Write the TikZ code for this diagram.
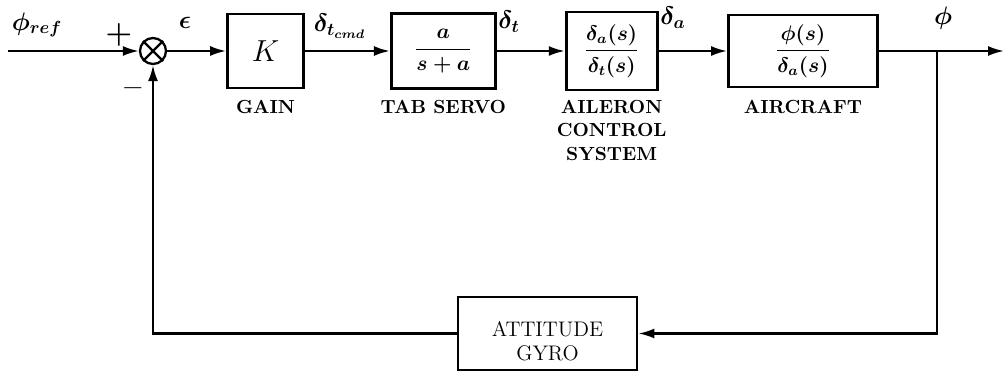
\documentclass[tikz,border=0pt]{standalone}
\usepackage{amsmath,bm}
\usetikzlibrary{arrows.meta, positioning}

\begin{document}
\begin{tikzpicture}[
    node distance=1.37cm,
    line width=1.3pt,
    >={Latex[length=3.2mm,width=2mm]},
    blk/.style={draw, line width=1.6pt, minimum width=1.82cm, minimum height=1.56cm, align=center, inner sep=0pt, font=\large\boldmath},
    lbl/.style={anchor=north, align=center, font=\fontsize{10.8}{13.4}\selectfont\bfseries, inner sep=0pt},
    sig/.style={inner sep=0pt, font=\Large}
  ]
  \useasboundingbox (0,0) rectangle (20.1,-7.48);

  \node[draw, circle, minimum size=0.52cm, inner sep=0pt] (sum) at (3.06,-1.02) {};
  \draw (sum.north west) -- (sum.south east) (sum.north east) -- (sum.south west);

  \node[blk, minimum width=1.52cm, minimum height=1.48cm, right=1.18cm of sum, font=\LARGE] (gain) {$K$};
  \node[blk, minimum width=2.08cm, minimum height=1.5cm, right=1.7cm of gain] (servo) {$\dfrac{a}{s+a}$};
  \node[blk, right=1.36cm of servo] (ail) {$\dfrac{\delta_a(s)}{\delta_t(s)}$};
  \node[blk, minimum width=2.98cm, minimum height=1.44cm, right=of ail] (acft) {$\dfrac{\phi(s)}{\delta_a(s)}$};
  \node[blk, minimum width=3.58cm, minimum height=1.46cm] (gyro) at (10.95,-6.67) {};
  \node[align=center, font=\large, inner sep=0pt] (gyrotxt) at ([yshift=-0.15cm]gyro.center) {ATTITUDE\\GYRO};

  \coordinate (in) at (0.16,-1.02);
  \coordinate (br) at (18.74,-1.02);
  \coordinate (out) at (20.08,-1.02);
  \coordinate (lblrow) at (0,-1.98);

  % block labels
  \node[lbl] (gainlbl) at (gain |- lblrow) {GAIN};
  \node[lbl] (servolbl) at (servo |- lblrow) {TAB SERVO};
  \node[lbl] (aillbl) at (ail |- lblrow) {AILERON\\CONTROL\\SYSTEM};
  \node[lbl] (acftlbl) at (acft |- lblrow) {AIRCRAFT};

  % signals
  \node[sig] (phiref) at (0.74,-0.5) {$\bm{\phi_{ref}}$};
  \node[sig, font=\LARGE\bfseries] (plus) at (2.38,-0.7) {+};
  \node[sig, font=\LARGE\bfseries] (minus) at (2.66,-1.84) {--};
  \node[sig] (err) at (3.7,-0.46) {$\bm{\epsilon}$};
  \node[sig] (dtcmd) at (6.8,-0.52) {$\bm{\delta_{t_{cmd}}}$};
  \node[sig] (dt) at (10.18,-0.44) {$\bm{\delta_t}$};
  \node[sig] (da) at (13.46,-0.36) {$\bm{\delta_a}$};
  \node[sig] (phi) at (18.86,-0.36) {$\bm{\phi}$};

  \draw[->] (in) -- (sum);
  \draw[->] (sum) -- (gain);
  \draw[->] (gain) -- (servo);
  \draw[->] (servo) -- (ail);
  \draw[->] (ail) -- (acft);
  \draw (acft) -- (br);
  \draw[->] (br) -- (out);
  \draw[->] (br) |- (gyro);
  \draw[->] (gyro) -| (sum);
\end{tikzpicture}
\end{document}
